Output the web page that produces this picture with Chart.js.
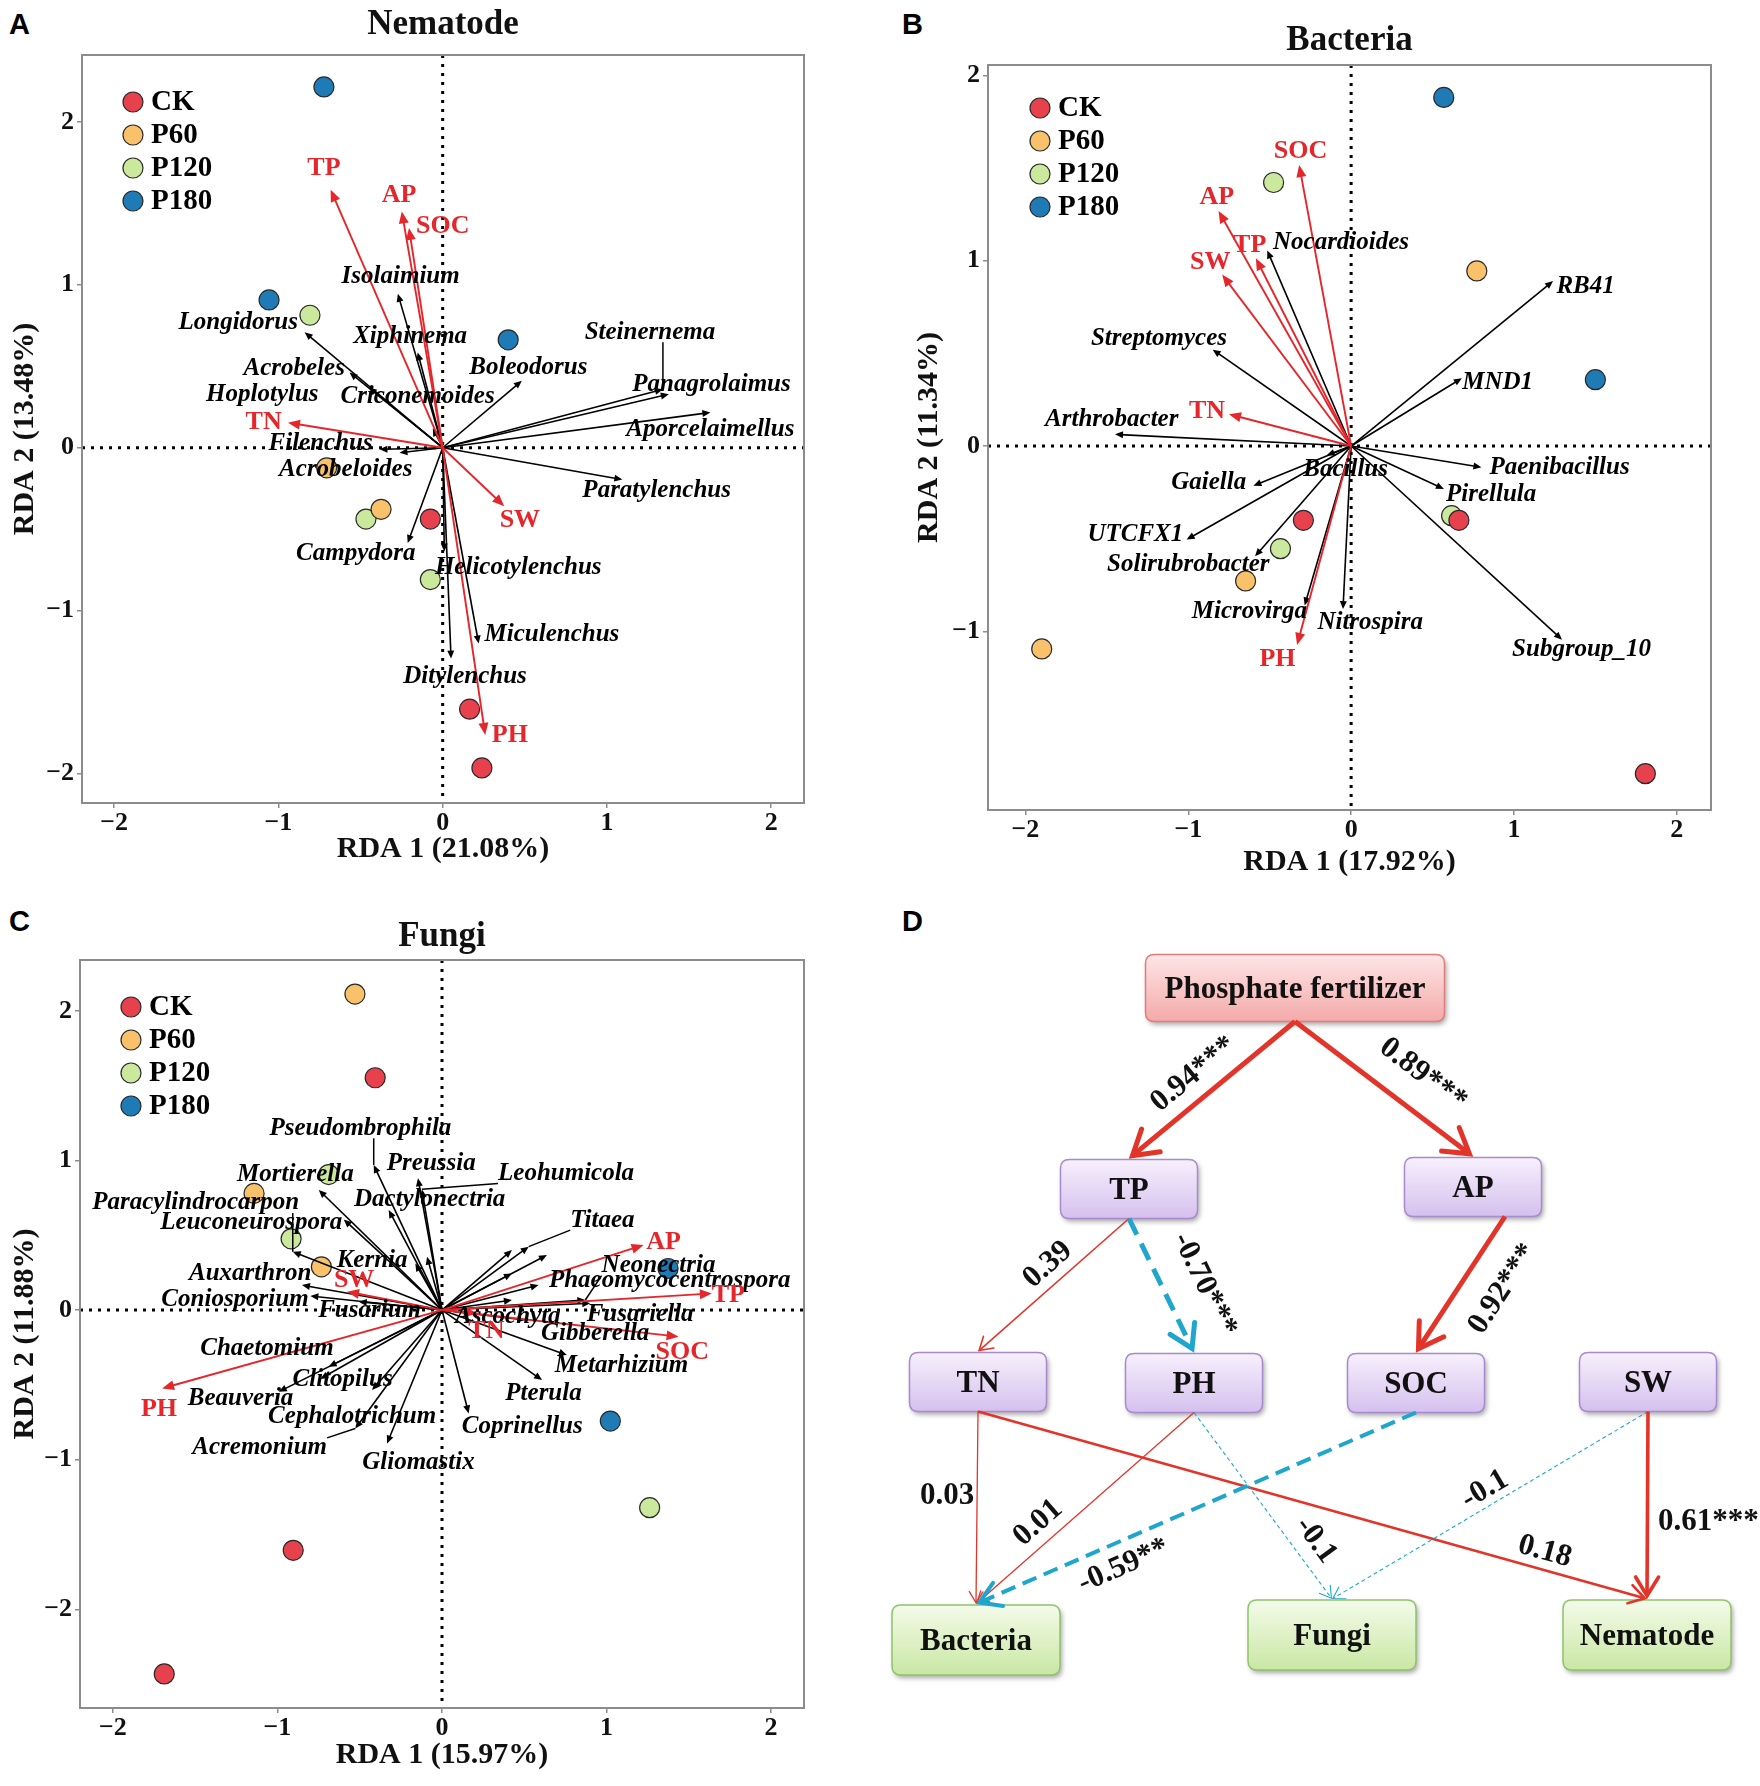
<!DOCTYPE html>
<html>
<head>
<meta charset="utf-8">
<script src="https://cdn.jsdelivr.net/npm/chart.js@4.4.1/dist/chart.umd.min.js"></script>
<style>
html,body{margin:0;padding:0;background:#fff;}
body{width:1760px;height:1786px;position:relative;overflow:hidden;}
canvas{position:absolute;display:block;}
.plab{position:absolute;font-family:"Liberation Sans",Arial,sans-serif;font-weight:bold;font-size:29px;line-height:1;color:#000;}
</style>
</head>
<body>
<div class="plab" style="left:9px;top:10px">A</div>
<div class="plab" style="left:902px;top:10px">B</div>
<div class="plab" style="left:9px;top:907px">C</div>
<div class="plab" style="left:902px;top:907px">D</div>
<canvas id="cA" width="880" height="893" style="left:0;top:0;width:880px;height:893px"></canvas>
<canvas id="cB" width="880" height="893" style="left:880px;top:0;width:880px;height:893px"></canvas>
<canvas id="cC" width="880" height="893" style="left:0;top:893px;width:880px;height:893px"></canvas>
<canvas id="cD" width="880" height="893" style="left:880px;top:893px;width:880px;height:893px"></canvas>
<script>
// ===================== DATA =====================
const groups = ['CK', 'P60', 'P120', 'P180'];

// ---- A: Nematode RDA ----
const nemXTicks = [-2, -1, 0, 1, 2];
const nemYTicks = [-2, -1, 0, 1, 2];
const nemCK   = [[-0.075,-0.438],[0.164,-1.604],[0.239,-1.965]];
const nemP60  = [[-0.706,-0.123],[-0.375,-0.378]];
const nemP120 = [[-0.808,0.813],[-0.467,-0.438],[-0.075,-0.809]];
const nemP180 = [[-0.723,2.214],[-1.057,0.907],[0.399,0.662]];
const nemSpecies = ['Isolaimium','Xiphinema','Longidorus','Acrobeles','Hoplotylus','Criconemoides','Boleodorus','Steinernema','Panagrolaimus','Aporcelaimellus','Paratylenchus','Filenchus','Acrobeloides','Campydora','Helicotylenchus','Miculenchus','Ditylenchus'];
const nemSpX = [-0.273,-0.152,-0.840,-0.567,-0.45,-0.06,0.482,1.341,1.377,1.63,1.094,-0.385,-0.263,-0.213,0.01,0.219,0.051];
const nemSpY = [0.945,0.585,0.709,0.462,0.37,0.12,0.411,0.359,0.329,0.216,-0.195,-0.01,-0.031,-0.585,-0.637,-1.201,-1.294];
const nemSpLabX = [-0.256,-0.198,-1.245,-0.904,-1.098,-0.153,0.522,1.262,1.637,1.63,1.303,-0.743,-0.59,-0.529,0.46,0.665,0.136];
const nemSpLabY = [1.051,0.683,0.767,0.487,0.329,0.315,0.49,0.708,0.385,0.112,-0.263,0.025,-0.133,-0.648,-0.736,-1.149,-1.401];
const nemLeader = ['Steinernema'];
const nemEnv = ['TP','AP','SOC','TN','SW','PH'];
const nemEnvX = [-0.682,-0.249,-0.205,-0.942,0.375,0.259];
const nemEnvY = [1.583,1.450,1.349,0.154,-0.359,-1.762];
const nemEnvLabX = [-0.723,-0.266,0.0,-1.09,0.47,0.409];
const nemEnvLabY = [1.716,1.548,1.356,0.154,-0.448,-1.762];

// ---- B: Bacteria RDA ----
const bacXTicks = [-2, -1, 0, 1, 2];
const bacYTicks = [-1, 0, 1, 2];
const bacCK   = [[0.662,-0.401],[-0.293,-0.401],[1.807,-1.768]];
const bacP60  = [[0.772,0.945],[-0.648,-0.728],[-1.9,-1.095]];
const bacP120 = [[-0.476,1.422],[0.617,-0.376],[-0.434,-0.554]];
const bacP180 = [[0.569,1.881],[1.5,0.358]];
const bacSpecies = ['Nocardioides','RB41','Streptomyces','MND1','Arthrobacter','Paenibacillus','Pirellula','Bacillus','Gaiella','UTCFX1','Solirubrobacter','Microvirga','Nitrospira','Subgroup_10'];
const bacSpX = [-0.515,1.24,-0.85,0.68,-1.45,0.80,0.57,-0.15,-0.60,-1.01,-0.59,-0.285,-0.05,1.295];
const bacSpY = [1.055,0.89,0.52,0.366,0.063,-0.115,-0.232,-0.05,-0.215,-0.505,-0.595,-0.86,-0.88,-1.045];
const bacSpLabX = [-0.062,1.44,-1.18,0.90,-1.47,1.28,0.86,-0.034,-0.875,-1.325,-1.0,-0.625,0.117,1.415];
const bacSpLabY = [1.098,0.86,0.58,0.342,0.143,-0.118,-0.262,-0.125,-0.195,-0.475,-0.642,-0.894,-0.951,-1.096];
const bacLeader = [];
const bacEnv = ['SOC','AP','TP','SW','TN','PH'];
const bacEnvX = [-0.319,-0.814,-0.585,-0.792,-0.75,-0.332];
const bacEnvY = [1.516,1.268,1.013,0.925,0.172,-1.073];
const bacEnvLabX = [-0.311,-0.825,-0.623,-0.865,-0.885,-0.452];
const bacEnvLabY = [1.589,1.342,1.082,0.993,0.19,-1.15];

// ---- C: Fungi RDA ----
const funXTicks = [-2, -1, 0, 1, 2];
const funYTicks = [-2, -1, 0, 1, 2];
const funCK   = [[-0.406,1.553],[-0.904,-1.606],[-1.688,-2.432]];
const funP60  = [[-0.529,2.112],[-1.142,0.78],[-0.733,0.289]];
const funP120 = [[-0.689,0.906],[-0.917,0.476],[1.262,-1.321]];
const funP180 = [[1.374,0.278],[1.023,-0.742]];
const funSpecies = ['Pseudombrophila','Preussia','Leohumicola','Mortierella','Dactylonectria','Paracylindrocarpon','Leuconeurospora','Kernia','Auxarthron','Coniosporium','Fusarium','Chaetomium','Beauveria','Clitopilus','Cephalotrichum','Acremonium','Gliomastix','Titaea','Phaeomycocentrospora','Neonectria','Fusariella','Ascochyta','Gibberella','Metarhizium','Pterula','Coprinellus','','','','',''];
const funSpX = [-0.415,-0.146,-0.122,-0.749,-0.324,-0.907,-0.597,-0.162,-0.851,-0.8,-0.506,-0.689,-0.992,-0.74,-0.425,-0.527,-0.334,0.527,0.587,0.871,0.901,0.182,0.506,0.759,0.608,0.162,0.425,0.638,0.425,0.425,-0.091];
const funSpY = [0.970,0.881,0.807,0.803,0.669,0.390,0.606,0.312,0.167,0.094,0.056,-0.379,-0.546,-0.46,-0.535,-0.792,-0.892,0.424,0.167,0.067,0.045,-0.022,-0.067,-0.301,-0.468,-0.691,0.401,0.368,0.245,0.067,0.357];
const funSpLabX = [-0.496,-0.065,0.754,-0.891,-0.075,-1.497,-1.159,-0.425,-1.166,-1.258,-0.44,-1.064,-1.224,-0.604,-0.546,-1.108,-0.143,0.975,1.384,1.316,1.204,0.40,0.931,1.091,0.617,0.488,null,null,null,null,null];
const funSpLabY = [1.215,0.982,0.913,0.903,0.742,0.716,0.582,0.334,0.247,0.069,0.0,-0.255,-0.59,-0.464,-0.712,-0.921,-1.016,0.601,0.2,0.297,-0.027,-0.045,-0.16,-0.369,-0.559,-0.78,null,null,null,null,null];
const funLeader = ['Pseudombrophila','Leohumicola','Paracylindrocarpon','Acremonium','Titaea','Neonectria'];
const funEnv = ['AP','TP','SOC','TN','SW','PH'];
const funEnvX = [1.225,1.64,1.438,0.213,-0.577,-1.701];
const funEnvY = [0.435,0.111,-0.178,-0.022,0.123,-0.524];
const funEnvLabX = [1.346,1.74,1.46,0.27,-0.534,-1.72];
const funEnvLabY = [0.45,0.10,-0.28,-0.14,0.202,-0.66];

// ---- D: path diagram ----
const pathNodes = ['Phosphate fertilizer','TP','AP','TN','PH','SOC','SW','Bacteria','Fungi','Nematode'];
const pathNodeX = [415, 249, 593, 98, 314, 536, 768, 96, 452, 767];
const pathNodeY = [95, 296, 294, 489, 490, 490, 489, 747, 742, 742];
const pathNodeKind = ['driver','soil','soil','soil','soil','soil','soil','biota','biota','biota'];
const pathFrom = ['Phosphate fertilizer','Phosphate fertilizer','TP','TP','AP','TN','TN','PH','PH','SOC','SW','SW'];
const pathTo   = ['TP','AP','TN','PH','SOC','Bacteria','Nematode','Bacteria','Fungi','Bacteria','Fungi','Nematode'];
const pathCoef = [0.94, 0.89, 0.39, -0.70, 0.92, 0.03, 0.18, 0.01, -0.1, -0.59, -0.1, 0.61];
const pathLabel = ['0.94***','0.89***','0.39','-0.70***','0.92***','0.03','0.18','0.01','-0.1','-0.59**','-0.1','0.61***'];

// ===================== STYLE =====================
const SERIF = '"Liberation Serif","Times New Roman",Times,serif';
Chart.defaults.font.family = SERIF;
const groupColors = {CK:'#e8414e', P60:'#f9c26a', P120:'#cbe99c', P180:'#1f7bb6'};
const ENV_RED = '#e5262b';

function fmtTick(v){ return v < 0 ? '\u2212' + Math.abs(v) : String(v); }

function drawArrow(ctx, x0, y0, x1, y1, color, lw, head, wid) {
  const a = Math.atan2(y1 - y0, x1 - x0);
  const bx = x1 - head * Math.cos(a), by = y1 - head * Math.sin(a);
  ctx.strokeStyle = color; ctx.lineWidth = lw; ctx.setLineDash([]);
  ctx.beginPath(); ctx.moveTo(x0, y0);
  ctx.lineTo(x1 - head * 0.6 * Math.cos(a), y1 - head * 0.6 * Math.sin(a)); ctx.stroke();
  ctx.fillStyle = color; ctx.beginPath(); ctx.moveTo(x1, y1);
  ctx.lineTo(bx - wid * Math.sin(a), by + wid * Math.cos(a));
  ctx.lineTo(bx + wid * Math.sin(a), by - wid * Math.cos(a));
  ctx.closePath(); ctx.fill();
}

function makeRda(id, cfg) {
  const canvas = document.getElementById(id);
  const datasets = groups.map(g => ({
    label: g,
    data: cfg.points[g].map(p => ({x: p[0], y: p[1]})),
    backgroundColor: groupColors[g], borderColor: '#2a2a2a', borderWidth: 1.2,
    pointRadius: 10, pointHoverRadius: 10
  }));
  const L = cfg.layout;
  const plugin = {
    id: 'rda_' + id,
    beforeDatasetsDraw(chart) {
      const {ctx, chartArea: a, scales: {x, y}} = chart;
      ctx.save();
      ctx.strokeStyle = '#000'; ctx.lineWidth = 3; ctx.setLineDash([3, 6]);
      const x0 = x.getPixelForValue(0), y0 = y.getPixelForValue(0);
      ctx.beginPath();
      ctx.moveTo(a.left, y0); ctx.lineTo(a.right, y0);
      ctx.moveTo(x0, a.top); ctx.lineTo(x0, a.bottom);
      ctx.stroke();
      ctx.restore();
    },
    afterDatasetsDraw(chart) {
      const {ctx, scales: {x, y}} = chart;
      const ox = x.getPixelForValue(0), oy = y.getPixelForValue(0);
      ctx.save();
      cfg.sp.names.forEach((n, i) => {
        drawArrow(ctx, ox, oy, x.getPixelForValue(cfg.sp.x[i]), y.getPixelForValue(cfg.sp.y[i]), '#000', 1.6, 8, 3.5);
      });
      cfg.env.names.forEach((n, i) => {
        drawArrow(ctx, ox, oy, x.getPixelForValue(cfg.env.x[i]), y.getPixelForValue(cfg.env.y[i]), ENV_RED, 1.9, 12, 5);
      });
      ctx.font = 'italic bold 25px ' + SERIF;
      ctx.textAlign = 'center'; ctx.textBaseline = 'middle'; ctx.fillStyle = '#000';
      cfg.sp.names.forEach((n, i) => {
        if (!n || cfg.sp.lx[i] == null) return;
        const lx = x.getPixelForValue(cfg.sp.lx[i]), ly = y.getPixelForValue(cfg.sp.ly[i]);
        if (cfg.sp.leader.indexOf(n) >= 0) {
          const w = ctx.measureText(n).width, h = 20;
          const tx = x.getPixelForValue(cfg.sp.x[i]), ty = y.getPixelForValue(cfg.sp.y[i]);
          const cx = Math.min(Math.max(tx, lx - w / 2), lx + w / 2);
          const cy = Math.min(Math.max(ty, ly - h / 2), ly + h / 2);
          ctx.strokeStyle = '#000'; ctx.lineWidth = 1.5; ctx.setLineDash([]);
          ctx.beginPath(); ctx.moveTo(cx, cy); ctx.lineTo(tx, ty); ctx.stroke();
        }
        ctx.fillText(n, lx, ly);
      });
      ctx.font = 'bold 26px ' + SERIF; ctx.fillStyle = ENV_RED;
      cfg.env.names.forEach((n, i) => {
        ctx.fillText(n, x.getPixelForValue(cfg.env.lx[i]), y.getPixelForValue(cfg.env.ly[i]));
      });
      ctx.restore();
    },
    afterDraw(chart) {
      const {ctx, chartArea: a} = chart;
      ctx.save();
      ctx.strokeStyle = '#8c8c8c'; ctx.lineWidth = 2; ctx.setLineDash([]);
      ctx.strokeRect(a.left, a.top, a.right - a.left, a.bottom - a.top);
      ctx.font = 'bold 29px ' + SERIF; ctx.textBaseline = 'middle'; ctx.textAlign = 'left';
      chart.data.datasets.forEach((ds, i) => {
        const cx = a.left + L.legDx, cy = a.top + L.legDy + i * 33;
        ctx.beginPath(); ctx.arc(cx, cy, 10, 0, Math.PI * 2);
        ctx.fillStyle = ds.backgroundColor; ctx.fill();
        ctx.lineWidth = 1.2; ctx.strokeStyle = '#2a2a2a'; ctx.stroke();
        ctx.fillStyle = '#000'; ctx.fillText(ds.label, cx + 18, cy + 1);
      });
      ctx.restore();
    }
  };
  const tickFont = {size: 26, weight: 'bold', family: SERIF, lineHeight: 1};
  const gridCfg = {drawOnChartArea: false, drawTicks: true, tickLength: 5, color: '#8c8c8c', lineWidth: 1.5};
  return new Chart(canvas, {
    type: 'scatter',
    data: {datasets},
    options: {
      responsive: false, animation: false, events: [], devicePixelRatio: 1,
      layout: {padding: {left: 0, right: L.padRight, top: 0, bottom: 0}},
      plugins: {
        legend: {display: false}, tooltip: {enabled: false},
        title: {display: true, text: cfg.title, fullSize: false, color: '#111',
                font: {size: 35, weight: 'bold', family: SERIF, lineHeight: 1.2},
                padding: {top: L.titleTop, bottom: L.titleBottom}}
      },
      scales: {
        x: {type: 'linear', min: cfg.xr[0], max: cfg.xr[1],
            afterFit: s => { s.height = L.xAxisH; },
            afterBuildTicks: s => { s.ticks = cfg.xTicks.map(v => ({value: v})); },
            ticks: {font: tickFont, color: '#111', padding: 2, callback: fmtTick, maxRotation: 0, autoSkip: false},
            grid: gridCfg, border: {display: false},
            title: {display: true, text: cfg.xTitle, color: '#111', font: {size: 30, weight: 'bold', family: SERIF, lineHeight: 1.2}, padding: {top: 0, bottom: L.xTitlePad}}},
        y: {type: 'linear', min: cfg.yr[0], max: cfg.yr[1],
            afterFit: s => { s.width = L.yAxisW; },
            afterBuildTicks: s => { s.ticks = cfg.yTicks.map(v => ({value: v})); },
            ticks: {font: tickFont, color: '#111', padding: 3, callback: fmtTick, autoSkip: false},
            grid: gridCfg, border: {display: false},
            title: {display: true, text: cfg.yTitle, color: '#111', font: {size: 30, weight: 'bold', family: SERIF, lineHeight: 1.2}, padding: {top: L.yTitlePad, bottom: 0}}}
      }
    },
    plugins: [plugin]
  });
}

makeRda('cA', {
  title: 'Nematode', xTitle: 'RDA 1 (21.08%)', yTitle: 'RDA 2 (13.48%)',
  xr: [-2.196, 2.2], yr: [-2.18, 2.41], xTicks: nemXTicks, yTicks: nemYTicks,
  points: {CK: nemCK, P60: nemP60, P120: nemP120, P180: nemP180},
  sp: {names: nemSpecies, x: nemSpX, y: nemSpY, lx: nemSpLabX, ly: nemSpLabY, leader: nemLeader},
  env: {names: nemEnv, x: nemEnvX, y: nemEnvY, lx: nemEnvLabX, ly: nemEnvLabY},
  layout: {padRight: 76, xAxisH: 90, yAxisW: 82, titleTop: 4, titleBottom: 9, xTitlePad: 26, yTitlePad: 7, legDx: 51, legDy: 47}
});
makeRda('cB', {
  title: 'Bacteria', xTitle: 'RDA 1 (17.92%)', yTitle: 'RDA 2 (11.34%)',
  xr: [-2.23, 2.21], yr: [-1.964, 2.056], xTicks: bacXTicks, yTicks: bacYTicks,
  points: {CK: bacCK, P60: bacP60, P120: bacP120, P180: bacP180},
  sp: {names: bacSpecies, x: bacSpX, y: bacSpY, lx: bacSpLabX, ly: bacSpLabY, leader: bacLeader},
  env: {names: bacEnv, x: bacEnvX, y: bacEnvY, lx: bacEnvLabX, ly: bacEnvLabY},
  layout: {padRight: 49, xAxisH: 83, yAxisW: 108, titleTop: 20, titleBottom: 3, xTitlePad: 13, yTitlePad: 31, legDx: 52, legDy: 43}
});
makeRda('cC', {
  title: 'Fungi', xTitle: 'RDA 1 (15.97%)', yTitle: 'RDA 2 (11.88%)',
  xr: [-2.2, 2.2], yr: [-2.66, 2.34], xTicks: funXTicks, yTicks: funYTicks,
  points: {CK: funCK, P60: funP60, P120: funP120, P180: funP180},
  sp: {names: funSpecies, x: funSpX, y: funSpY, lx: funSpLabX, ly: funSpLabY, leader: funLeader},
  env: {names: funEnv, x: funEnvX, y: funEnvY, lx: funEnvLabX, ly: funEnvLabY},
  layout: {padRight: 76, xAxisH: 78, yAxisW: 80, titleTop: 23, titleBottom: 2, xTitlePad: 13, yTitlePad: 7, legDx: 51, legDy: 47}
});

// ---- D: path diagram (Chart.js scatter with hidden scales as the drawing frame) ----
const nodeSize = {driver: {w: 299, h: 67}, soil: {w: 137, h: 59}, biota: {w: 168, h: 70}};
const nodeFill = {
  driver: ['#fde6e6', '#f4a9a9', '#e27c7c'],
  soil:   ['#f7f0fc', '#d5c0ee', '#a88bcf'],
  biota:  ['#f4fbea', '#c9e7a3', '#8fc46b']
};
const edgeStyle = [
  {w: 5,   dash: [],      head: 28, t: 0.52,  off: 24,  hz: false, sdx: 0},
  {w: 5,   dash: [],      head: 28, t: 0.60,  off: -35, hz: false, sdx: 0},
  {w: 1.6, dash: [],      head: 15, t: 0.455, off: 19,  hz: false, sdx: 0},
  {w: 5,   dash: [18,10], head: 26, t: 0.62,  off: -39, hz: false, sdx: 0},
  {w: 5,   dash: [],      head: 28, t: 0.38,  off: -38, hz: false, sdx: 32},
  {w: 1.3, dash: [],      head: 13, t: 0.44,  off: 30,  hz: true,  sdx: 0},
  {w: 2.6, dash: [],      head: 18, t: 0.84,  off: -18, hz: false, sdx: 0},
  {w: 1.3, dash: [],      head: 13, t: 0.655, off: 20,  hz: false, sdx: 0},
  {w: 1.1, dash: [4,3],   head: 13, t: 0.755, off: -22, hz: false, sdx: 0},
  {w: 4,   dash: [15,8],  head: 24, t: 0.686, off: -24, hz: false, sdx: 0},
  {w: 1.1, dash: [4,3],   head: 13, t: 0.49,  off: 16,  hz: false, sdx: 0},
  {w: 3.6, dash: [],      head: 22, t: 0.59,  off: -61, hz: true,  sdx: 0}
];
const POS_COL = '#e3342a', NEG_COL = '#1ea6cc';

function roundRectPath(ctx, x, y, w, h, r) {
  ctx.beginPath();
  ctx.moveTo(x + r, y); ctx.lineTo(x + w - r, y); ctx.quadraticCurveTo(x + w, y, x + w, y + r);
  ctx.lineTo(x + w, y + h - r); ctx.quadraticCurveTo(x + w, y + h, x + w - r, y + h);
  ctx.lineTo(x + r, y + h); ctx.quadraticCurveTo(x, y + h, x, y + h - r);
  ctx.lineTo(x, y + r); ctx.quadraticCurveTo(x, y, x + r, y);
  ctx.closePath();
}

const pathPlugin = {
  id: 'pathDiagram',
  afterDatasetsDraw(chart) {
    const {ctx, scales: {x, y}} = chart;
    const px = v => x.getPixelForValue(v), py = v => y.getPixelForValue(v);
    const idx = n => pathNodes.indexOf(n);
    const box = i => {
      const s = nodeSize[pathNodeKind[i]];
      const l = px(pathNodeX[i] - s.w / 2), r = px(pathNodeX[i] + s.w / 2);
      const t = py(pathNodeY[i] - s.h / 2), b = py(pathNodeY[i] + s.h / 2);
      return {l, r, t, b, cx: px(pathNodeX[i])};
    };
    ctx.save();
    pathNodes.forEach((n, i) => {
      const bb = box(i), f = nodeFill[pathNodeKind[i]];
      const g = ctx.createLinearGradient(0, bb.t, 0, bb.b);
      g.addColorStop(0, f[0]); g.addColorStop(1, f[1]);
      ctx.save();
      ctx.shadowColor = 'rgba(0,0,0,0.35)'; ctx.shadowBlur = 5; ctx.shadowOffsetX = 2; ctx.shadowOffsetY = 3;
      roundRectPath(ctx, bb.l, bb.t, bb.r - bb.l, bb.b - bb.t, 9);
      ctx.fillStyle = g; ctx.fill();
      ctx.restore();
      roundRectPath(ctx, bb.l, bb.t, bb.r - bb.l, bb.b - bb.t, 9);
      ctx.strokeStyle = f[2]; ctx.lineWidth = 1.5; ctx.stroke();
      ctx.fillStyle = '#111'; ctx.font = 'bold 31px ' + SERIF;
      ctx.textAlign = 'center'; ctx.textBaseline = 'middle';
      ctx.fillText(n, bb.cx, (bb.t + bb.b) / 2 + 2);
    });
    pathFrom.forEach((from, k) => {
      const st = edgeStyle[k];
      const s = box(idx(from)), e = box(idx(pathTo[k]));
      const x0 = s.cx + st.sdx, y0 = s.b, x1 = e.cx, y1 = e.t - 1;
      const col = pathCoef[k] >= 0 ? POS_COL : NEG_COL;
      const a = Math.atan2(y1 - y0, x1 - x0);
      const tipX = x1 - st.w * 0.9 * Math.cos(a), tipY = y1 - st.w * 0.9 * Math.sin(a);
      ctx.strokeStyle = col; ctx.lineWidth = st.w; ctx.lineCap = 'butt';
      ctx.setLineDash(st.dash);
      ctx.beginPath(); ctx.moveTo(x0, y0); ctx.lineTo(tipX, tipY); ctx.stroke();
      ctx.setLineDash([]); ctx.lineJoin = 'miter'; ctx.lineCap = 'round';
      const sp = 0.55;
      ctx.beginPath();
      ctx.moveTo(tipX - st.head * Math.cos(a - sp), tipY - st.head * Math.sin(a - sp));
      ctx.lineTo(tipX, tipY);
      ctx.lineTo(tipX - st.head * Math.cos(a + sp), tipY - st.head * Math.sin(a + sp));
      ctx.stroke();
      const len = Math.hypot(x1 - x0, y1 - y0);
      const nx = -(y1 - y0) / len, ny = (x1 - x0) / len;
      const lx = x0 + st.t * (x1 - x0) + st.off * nx, ly = y0 + st.t * (y1 - y0) + st.off * ny;
      let ang = st.hz ? 0 : a;
      if (ang > Math.PI / 2) ang -= Math.PI;
      if (ang < -Math.PI / 2) ang += Math.PI;
      ctx.save();
      ctx.translate(lx, ly); ctx.rotate(ang);
      ctx.fillStyle = '#111'; ctx.font = 'bold 31px ' + SERIF;
      ctx.textAlign = 'center'; ctx.textBaseline = 'middle';
      ctx.fillText(pathLabel[k], 0, 0);
      ctx.restore();
    });
    ctx.restore();
  }
};

new Chart(document.getElementById('cD'), {
  type: 'scatter',
  data: {datasets: [{label: 'nodes', data: pathNodes.map((n, i) => ({x: pathNodeX[i], y: pathNodeY[i]})), pointRadius: 0}]},
  options: {
    responsive: false, animation: false, events: [], devicePixelRatio: 1,
    layout: {padding: 0},
    plugins: {legend: {display: false}, tooltip: {enabled: false}},
    scales: {
      x: {type: 'linear', min: 0, max: 880, display: false},
      y: {type: 'linear', min: 0, max: 893, reverse: true, display: false}
    }
  },
  plugins: [pathPlugin]
});
</script>
</body>
</html>
